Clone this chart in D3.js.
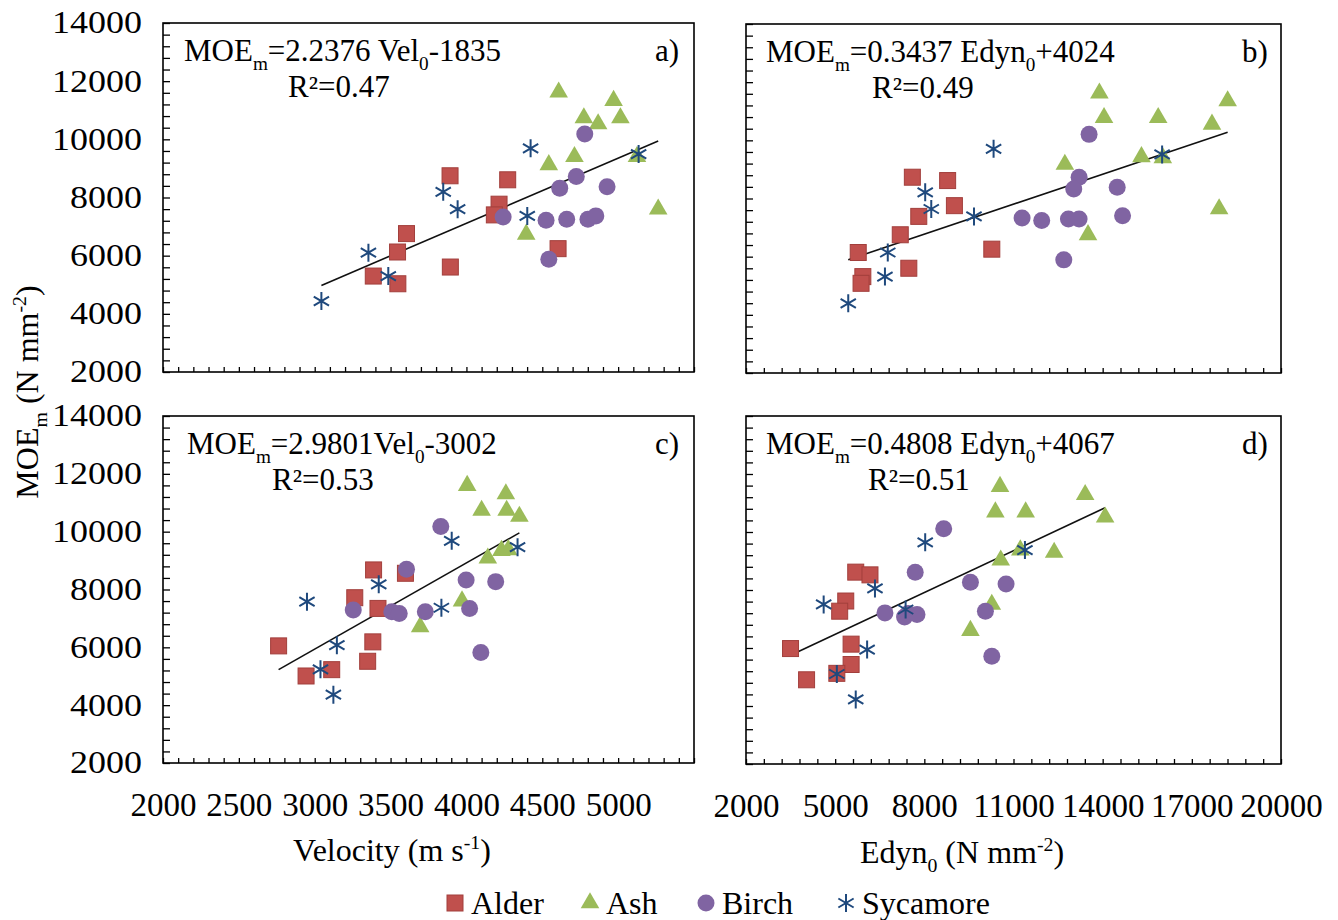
<!DOCTYPE html>
<html>
<head>
<meta charset="utf-8">
<script src="https://cdn.jsdelivr.net/npm/d3@7"></script>
<style>
  body { margin: 0; background: #fff; }
  svg { display: block; }
  svg text { font-family: "Liberation Serif", "Times New Roman", "DejaVu Serif", "Noto Serif", serif; fill: #000; }
</style>
</head>
<body>
<svg id="chart" width="1338" height="920"></svg>
<script>
// ---- data: [x, MOEm] ----
// panel a : velocity vs MOEm
const aAlder = [[3892,8747],[4272,8609],[3605,6759],[3546,6126],[3386,5299],[3548,5034],[3894,5609],[4215,7770],[4184,7402],[4604,6241]];
const aAsh = [[4608,11621],[4970,11333],[4774,10736],[4868,10529],[5015,10736],[4712,9402],[4543,9126],[5124,9402],[5264,7598],[4394,6736]];
const aBirch = [[4780,10184],[4724,8724],[4615,8322],[4927,8368],[4242,7333],[4525,7218],[4661,7253],[4801,7253],[4853,7368],[4543,5874]];
const aSycamore = [[4423,9690],[3847,8195],[3942,7598],[5135,9494],[4401,7368],[3354,6103],[3485,5299],[3044,4437]];

// panel b : Edyn vs MOEm
const bAlder = [[7597,8732],[8784,8617],[9012,7754],[7813,7385],[7190,6753],[5776,6143],[10270,6258],[7478,5602],[5931,5314],[5871,5084]];
const bAsh = [[13890,11620],[18205,11356],[14046,10780],[15868,10780],[17678,10550],[15305,9434],[16024,9399],[12728,9169],[17918,7639],[13507,6753]];
const bBirch = [[13543,10205],[13207,8732],[13027,8329],[14489,8387],[11289,7328],[11949,7247],[12848,7293],[13207,7293],[14669,7408],[12692,5890]];
const bSycamore = [[10330,9710],[8029,8214],[8233,7639],[9671,7385],[16000,9514],[6770,6143],[6675,5314],[5440,4394]];

// panel c : velocity vs MOEm
const cAlder = [[3388,8677],[3598,8561],[3264,7716],[3417,7346],[2762,6050],[3383,6189],[3349,5518],[3112,5228],[2943,5009]];
const cAsh = [[4005,11593],[4260,11303],[4100,10736],[4265,10736],[4349,10528],[4141,9082],[4231,9348],[4276,9371],[3971,7600],[3695,6710]];
const cBirch = [[3831,10181],[3605,8700],[3998,8330],[4193,8272],[3254,7288],[3508,7230],[3557,7172],[3729,7230],[4021,7346],[4095,5818]];
const cSycamore = [[3903,9683],[3422,8179],[2949,7577],[3835,7369],[4337,9464],[3146,6073],[3038,5240],[3123,4361]];

// panel d : Edyn vs MOEm
const dAlder = [[5692,8616],[6171,8522],[5356,7620],[5152,7269],[3498,5981],[5536,6133],[5536,5431],[5056,5126],[4038,4904]];
const dAsh = [[10546,11567],[13411,11286],[10390,10689],[11409,10689],[14082,10513],[12368,9295],[10570,9026],[11229,9377],[10270,7504],[9551,6602]];
const dBirch = [[8652,10115],[7693,8616],[9551,8265],[10750,8206],[6675,7211],[7334,7070],[7454,7187],[7753,7152],[10055,7269],[10270,5712]];
const dSycamore = [[8029,9646],[6339,8054],[4613,7504],[7370,7328],[11385,9377],[6075,5946],[5056,5103],[5692,4225]];

// regression coefficients [slope, intercept], R²
const slopes = [2.2376, 0.3437, 2.9801, 0.4808];
const intercepts = [-1835, 4024, -3002, 4067];
const r2Labels = ['R²=0.47', 'R²=0.49', 'R²=0.53', 'R²=0.51'];
const panelTags = ['a)', 'b)', 'c)', 'd)'];

const species = ['Alder', 'Ash', 'Birch', 'Sycamore'];
const velTicks = [2000, 2500, 3000, 3500, 4000, 4500, 5000];
const edynTicks = [2000, 5000, 8000, 11000, 14000, 17000, 20000];
const moeTicks = [2000, 4000, 6000, 8000, 10000, 12000, 14000];

// 公式文本: [text, 'sub'|'sup'|'']
const equations = [
    [['MOE',''],['m','sub'],['=2.2376 Vel',''],['0','sub'],['-1835','']],
    [['MOE',''],['m','sub'],['=0.3437 Edyn',''],['0','sub'],['+4024','']],
    [['MOE',''],['m','sub'],['=2.9801Vel',''],['0','sub'],['-3002','']],
    [['MOE',''],['m','sub'],['=0.4808 Edyn',''],['0','sub'],['+4067','']]
];

const colors = { Alder: '#C0504D', Ash: '#9BBB59', Birch: '#8064A2', Sycamore: '#1F497D' };

// layout of the four panels
const panels = [
    { x0: 163, x1: 694, y0: 23, y1: 372, domain: [2000, 5500], minor: 100, data: [aAlder, aAsh, aBirch, aSycamore], eqX: 184, r2X: 288, yLabels: true, xLabels: null },
    { x0: 746, x1: 1281, y0: 24, y1: 373, domain: [2000, 20000], minor: 600, data: [bAlder, bAsh, bBirch, bSycamore], eqX: 766, r2X: 872, yLabels: false, xLabels: null },
    { x0: 163, x1: 694, y0: 416, y1: 763, domain: [2000, 5500], minor: 100, data: [cAlder, cAsh, cBirch, cSycamore], eqX: 187, r2X: 272, yLabels: true, xLabels: velTicks },
    { x0: 746, x1: 1281, y0: 416, y1: 764, domain: [2000, 20000], minor: 600, data: [dAlder, dAsh, dBirch, dSycamore], eqX: 766, r2X: 868, yLabels: false, xLabels: edynTicks }
];

const svg = d3.select('#chart');

/**
 * 带上下标的文字
 */
function richText(sel, parts, size) {
    let shift = 0;
    parts.forEach(([str, mode]) => {
        const target = mode === 'sub' ? size * 0.28 : mode === 'sup' ? -size * 0.38 : 0;
        sel.append('tspan')
            .attr('dy', target - shift)
            .attr('font-size', mode ? size * 0.62 : size)
            .text(str);
        shift = target;
    });
}

function drawMarker(g, name, x, y) {
    const c = colors[name];
    if (name === 'Alder') {
        g.append('rect').attr('x', x - 8).attr('y', y - 8).attr('width', 16).attr('height', 16)
            .attr('fill', c).attr('stroke', '#a23f3c').attr('stroke-width', 1);
    } else if (name === 'Ash') {
        g.append('path').attr('d', d3.symbol(d3.symbolTriangle, 150)())
            .attr('transform', `translate(${x},${y})`).attr('fill', c);
    } else if (name === 'Birch') {
        g.append('circle').attr('cx', x).attr('cy', y).attr('r', 8.5).attr('fill', c);
    } else {
        const r = 9, dx = r * 0.85, dy = r * 0.5;
        g.append('path')
            .attr('d', `M${x},${y - r}L${x},${y + r}M${x - dx},${y - dy}L${x + dx},${y + dy}M${x - dx},${y + dy}L${x + dx},${y - dy}`)
            .attr('stroke', c).attr('stroke-width', 2).attr('fill', 'none');
    }
}

panels.forEach((p, i) => {
    const x = d3.scaleLinear().domain(p.domain).range([p.x0, p.x1]);
    const y = d3.scaleLinear().domain([2000, 14000]).range([p.y1, p.y0]);
    const g = svg.append('g');

    // inward minor ticks
    const yAxis = g.append('g').attr('transform', `translate(${p.x0},0)`)
        .call(d3.axisLeft(y).tickValues(d3.range(2000, 14001, 400)).tickSize(-7).tickFormat(''));
    const xAxis = g.append('g').attr('transform', `translate(0,${p.y1})`)
        .call(d3.axisBottom(x).tickValues(d3.range(p.domain[0], p.domain[1] + 1, p.minor)).tickSize(-5).tickFormat(''));
    [yAxis, xAxis].forEach(a => {
        a.select('.domain').remove();
        a.selectAll('line').attr('stroke', '#000').attr('stroke-width', 1.3);
    });

    // frame
    g.append('rect').attr('x', p.x0).attr('y', p.y0)
        .attr('width', p.x1 - p.x0).attr('height', p.y1 - p.y0)
        .attr('fill', 'none').attr('stroke', '#000').attr('stroke-width', 1.6);

    if (p.yLabels) {
        const yl = g.append('g').attr('transform', `translate(${p.x0},0)`)
            .call(d3.axisLeft(y).tickValues(moeTicks).tickSize(0).tickPadding(21).tickFormat(d3.format('d')));
        yl.select('.domain').remove();
        yl.attr('font-family', null);
        yl.selectAll('text').attr('font-size', 31).attr('fill', '#000')
            .attr('textLength', d => String(d).length * 18)
            .attr('lengthAdjust', 'spacingAndGlyphs');
    }
    if (p.xLabels) {
        const xl = g.append('g').attr('transform', `translate(0,${p.y1})`)
            .call(d3.axisBottom(x).tickValues(p.xLabels).tickSize(0).tickPadding(30).tickFormat(d3.format('d')));
        xl.select('.domain').remove();
        xl.attr('font-family', null);
        xl.selectAll('text').attr('font-size', 33).attr('fill', '#000');
    }

    // regression line over the data range
    const allX = p.data.flat().map(d => d[0]);
    const ext = d3.extent(allX);
    g.append('line')
        .attr('x1', x(ext[0])).attr('y1', y(slopes[i] * ext[0] + intercepts[i]))
        .attr('x2', x(ext[1])).attr('y2', y(slopes[i] * ext[1] + intercepts[i]))
        .attr('stroke', '#111').attr('stroke-width', 1.6);

    // markers
    const mg = g.append('g');
    species.forEach((name, k) => {
        p.data[k].forEach(d => drawMarker(mg, name, x(d[0]), y(d[1])));
    });

    // equation, R², tag
    richText(g.append('text').attr('x', p.eqX).attr('y', p.y0 + 38), equations[i], 31);
    g.append('text').attr('x', p.r2X).attr('y', p.y0 + 74).attr('font-size', 31).text(r2Labels[i]);
    g.append('text').attr('x', p.x1 - 39).attr('y', p.y0 + 38).attr('font-size', 31).text(panelTags[i]);
});

// axis titles
richText(svg.append('text').attr('x', 392).attr('y', 861).attr('text-anchor', 'middle'),
    [['Velocity (m s',''],['-1','sup'],[')','']], 32);
richText(svg.append('text').attr('x', 962).attr('y', 863).attr('text-anchor', 'middle'),
    [['Edyn',''],['0','sub'],[' (N mm',''],['-2','sup'],[')','']], 32);
richText(svg.append('text').attr('transform', 'translate(38,392) rotate(-90)').attr('text-anchor', 'middle'),
    [['MOE',''],['m','sub'],[' (N mm',''],['-2','sup'],[')','']], 32);

// legend
const legendX = [455, 590, 706, 846];
const lg = svg.append('g');
species.forEach((name, k) => {
    drawMarker(lg, name, legendX[k], 903);
    lg.append('text').attr('x', legendX[k] + 16).attr('y', 914).attr('font-size', 32).text(name);
});
</script>
</body>
</html>
